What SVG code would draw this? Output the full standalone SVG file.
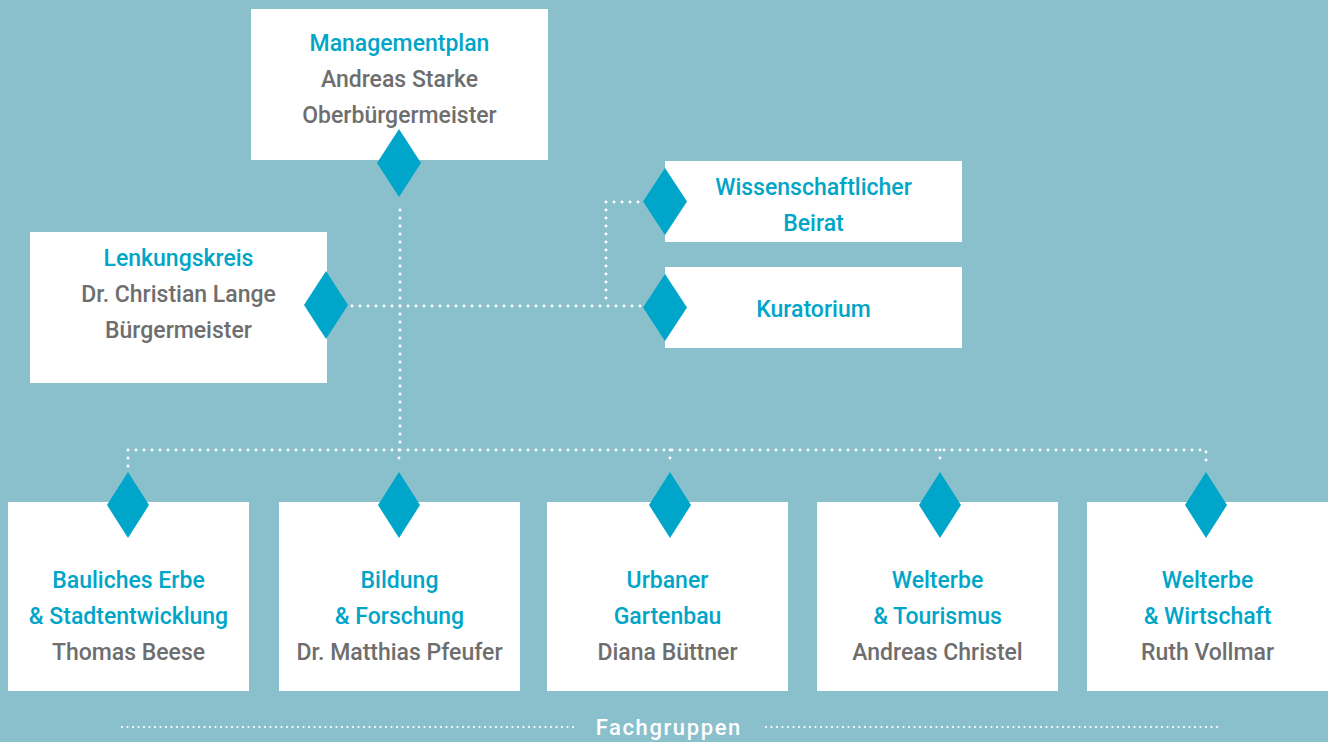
<svg xmlns="http://www.w3.org/2000/svg" width="1328" height="742" viewBox="0 0 1328 742">
<style>
.box{fill:#ffffff}
.dia{fill:#00a6c9}
.t{font-family:Roboto,"Open Sans",sans-serif;font-weight:500;font-size:23px;text-anchor:middle}
.b{fill:#00a5c8}
.g{fill:#6e6e6e}
.dot{fill:none;stroke:#ffffff;stroke-width:2.8;stroke-linecap:round;stroke-dasharray:0 8}
.dot2{fill:none;stroke:#ffffff;stroke-width:2.2;stroke-linecap:round;stroke-dasharray:0 5.5}
.f{font-family:Roboto,"Open Sans",sans-serif;font-weight:500;font-size:22px;letter-spacing:1.6px;fill:#ffffff;text-anchor:middle}
</style>
<rect width="1328" height="742" fill="#8ac0cc"/>
<g id="connectors">
<path class="dot" d="M400 210 V450"/>
<path class="dot" d="M352 306 H642"/>
<path class="dot" d="M606 298 V202 H642"/>
<path class="dot" d="M128 466 V450 H1206 V466"/>
<path class="dot" d="M399 450 V466"/>
<path class="dot" d="M670 450 V466"/>
<path class="dot" d="M940 450 V466"/>
<path class="dot2" d="M122 727 H574"/>
<path class="dot2" d="M766 727 H1218"/>
</g>
<g id="managementplan">
<rect class="box" x="251" y="9" width="297" height="151"/>
<text class="t b" x="399.5" y="51">Managementplan</text>
<text class="t g" x="399.5" y="87">Andreas Starke</text>
<text class="t g" x="399.5" y="123">Oberbürgermeister</text>
<polygon class="dia" points="399,129 421,163 399,197 377,163"/>
</g>
<g id="lenkungskreis">
<rect class="box" x="30" y="232" width="297" height="151"/>
<text class="t b" x="178.5" y="266">Lenkungskreis</text>
<text class="t g" x="178.5" y="302">Dr. Christian Lange</text>
<text class="t g" x="178.5" y="338">Bürgermeister</text>
<polygon class="dia" points="326,271 348,305 326,339 304,305"/>
</g>
<g id="beirat">
<rect class="box" x="665" y="161" width="297" height="81"/>
<text class="t b" x="813.5" y="195">Wissenschaftlicher</text>
<text class="t b" x="813.5" y="231">Beirat</text>
<polygon class="dia" points="665,168 687,201.5 665,235 643,201.5"/>
</g>
<g id="kuratorium">
<rect class="box" x="665" y="267" width="297" height="81"/>
<text class="t b" x="813.5" y="317">Kuratorium</text>
<polygon class="dia" points="665,274 687,307.5 665,341 643,307.5"/>
</g>
<g id="bauliches-erbe">
<rect class="box" x="8" y="502" width="241" height="189"/>
<text class="t b" x="128.5" y="588">Bauliches Erbe</text>
<text class="t b" x="128.5" y="624">&amp; Stadtentwicklung</text>
<text class="t g" x="128.5" y="660">Thomas Beese</text>
<polygon class="dia" points="128,472 149,505 128,538 107,505"/>
</g>
<g id="bildung">
<rect class="box" x="279" y="502" width="241" height="189"/>
<text class="t b" x="399.5" y="588">Bildung</text>
<text class="t b" x="399.5" y="624">&amp; Forschung</text>
<text class="t g" x="399.5" y="660">Dr. Matthias Pfeufer</text>
<polygon class="dia" points="399,472 420,505 399,538 378,505"/>
</g>
<g id="gartenbau">
<rect class="box" x="547" y="502" width="241" height="189"/>
<text class="t b" x="667.5" y="588">Urbaner</text>
<text class="t b" x="667.5" y="624">Gartenbau</text>
<text class="t g" x="667.5" y="660">Diana Büttner</text>
<polygon class="dia" points="670,472 691,505 670,538 649,505"/>
</g>
<g id="tourismus">
<rect class="box" x="817" y="502" width="241" height="189"/>
<text class="t b" x="937.5" y="588">Welterbe</text>
<text class="t b" x="937.5" y="624">&amp; Tourismus</text>
<text class="t g" x="937.5" y="660">Andreas Christel</text>
<polygon class="dia" points="940,472 961,505 940,538 919,505"/>
</g>
<g id="wirtschaft">
<rect class="box" x="1087" y="502" width="241" height="189"/>
<text class="t b" x="1207.5" y="588">Welterbe</text>
<text class="t b" x="1207.5" y="624">&amp; Wirtschaft</text>
<text class="t g" x="1207.5" y="660">Ruth Vollmar</text>
<polygon class="dia" points="1206,472 1227,505 1206,538 1185,505"/>
</g>
<g id="fachgruppen">
<text class="f" x="668.8" y="735">Fachgruppen</text>
</g>
</svg>
